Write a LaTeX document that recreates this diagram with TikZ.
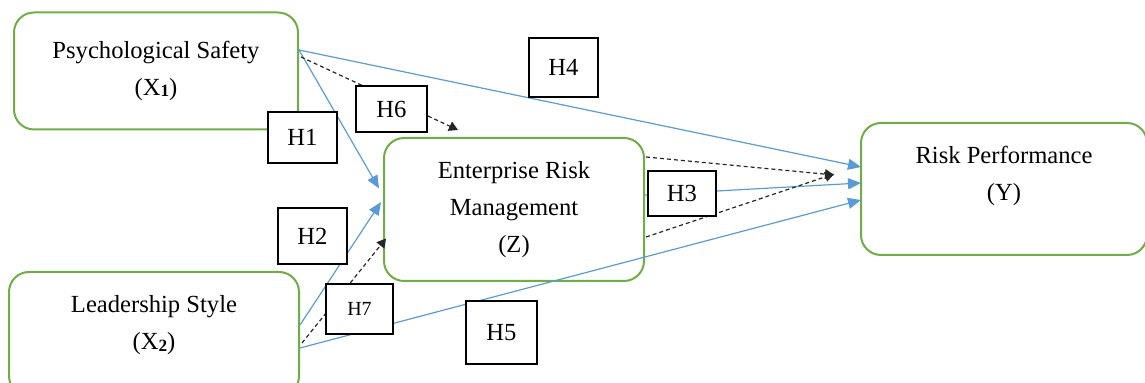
\documentclass[tikz,border=0pt]{standalone}
\usepackage{fontspec}
\setmainfont{Liberation Serif}
\usetikzlibrary{arrows.meta,positioning}
\definecolor{boxgreen}{RGB}{112,173,71}
\definecolor{pathblue}{RGB}{91,155,213}
\newcommand{\idx}[1]{\raisebox{-0.6pt}{\bfseries\fontsize{8.6}{10}\selectfont #1}}

\begin{document}
\begin{tikzpicture}
	[
	x = {(0.5pt, 0pt)},
	y = {(0pt, -0.5pt)},
	font = \fontsize{12.3}{18.5}\selectfont,
	construct/.style = {draw = boxgreen, line width = 1pt, rounded corners = 10pt, align = center, inner sep = 0pt},
	hypbox/.style = {draw = black, line width = 1pt, fill = white, inner sep = 0pt},
	directpath/.style = {color = pathblue, line width = 0.6pt, -{Triangle[length = 6.5pt, width = 5.5pt]}},
	indirectpath/.style = {color = black!85, line width = 0.6pt, dash pattern = on 2pt off 1.5pt, -{Triangle[length = 4.5pt, width = 5pt]}}]
	
	\useasboundingbox (0, 0) rectangle (1145, 383);
	
	%% Drawing the constructs
	
	\node[construct, minimum width = 142pt, minimum height = 58.5pt] (x1) at (156, 71) {Psychological Safety\\(X\idx{1})};
	\node[construct, minimum width = 130pt, minimum height = 71.5pt] (erm) at (514, 209.5) {Enterprise Risk\\Management\\(Z)};
	\node[construct, minimum width = 143pt, minimum height = 66pt,
		label = {[align = center, yshift = 6.5pt]center:Risk Performance\\(Y)}] (rp) at (1004, 189) {};
	\node[construct, minimum width = 145pt, minimum height = 62pt,
		label = {[align = center, yshift = 4.25pt]center:Leadership Style\\(X\idx{2})}] (x2) at (154, 334) {};
	
	%% Drawing the direct paths
	
	\draw[directpath] ([yshift = 10.5pt]x1.east) -- ([xshift = -2pt, yshift = 10.5pt]erm.west);
	\draw[directpath] ([yshift = 10.5pt]x1.east) -- ([xshift = 0.5pt, yshift = 11pt]rp.west);
	\draw[directpath] ([yshift = 4.5pt]x2.east) -- ([xshift = -1pt, yshift = 3.75pt]erm.west);
	\draw[directpath] ([yshift = -7pt]x2.east) -- ([xshift = 0.5pt, yshift = -5.5pt]rp.west);
	\draw[directpath] ([yshift = 7.25pt]erm.east) -- ([xshift = 0.5pt, yshift = 3pt]rp.west);
	
	%% Drawing the mediated paths
	
	\draw[indirectpath] ([xshift = 1pt, yshift = 7pt]x1.east) -- ([xshift = -28pt, yshift = 3.5pt]erm.north);
	\draw[indirectpath] ([xshift = 1pt, yshift = -4.5pt]x2.east) -- ([xshift = 1.5pt, yshift = -14.5pt]erm.west);
	\draw[indirectpath] ([xshift = 0.5pt, yshift = 26.25pt]erm.east) -- ([xshift = -13pt, yshift = 7pt]rp.west);
	\draw[indirectpath] ([xshift = 0.5pt, yshift = -13.75pt]erm.east) -- ([xshift = -13pt, yshift = 7.5pt]rp.west);
	
	%% Hypothesis labels
	
	\node[hypbox, minimum width = 34.5pt, minimum height = 29.5pt] (h4) at (563.5, 67.5) {H4};
	\node[hypbox, minimum width = 35.5pt, minimum height = 23pt] (h6) at (391.5, 109) {H6};
	\node[hypbox, minimum width = 34.5pt, minimum height = 25.5pt] (h1) at (302.5, 137.5) {H1};
	\node[hypbox, minimum width = 34pt, minimum height = 22.5pt] (h3) at (682, 193.5) {H3};
	\node[hypbox, minimum width = 34.5pt, minimum height = 28pt] (h2) at (312.5, 236) {H2};
	\node[hypbox, minimum width = 33.5pt, minimum height = 25pt, font = \fontsize{10}{12}\selectfont] (h7) at (359.5, 309) {H7};
	\node[hypbox, minimum width = 35.5pt, minimum height = 31.5pt] (h5) at (501.5, 332.5) {H5};
\end{tikzpicture}
\end{document}
